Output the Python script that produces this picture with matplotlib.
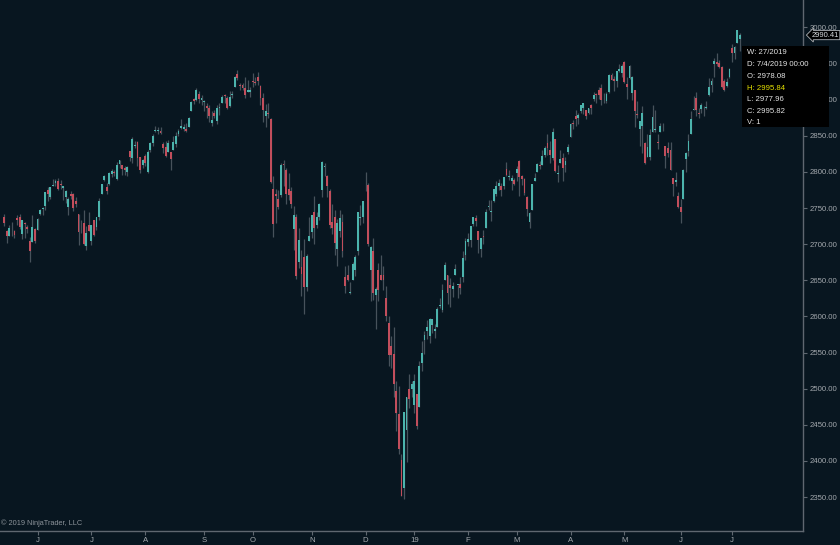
import pandas as pd
import numpy as np
import matplotlib
matplotlib.use("Agg")
import matplotlib.pyplot as plt
from matplotlib.patches import Rectangle

# S&P 500 daily bars, May 14 2018 - Jul 5 2019 (one line per month)
opens = [
    2738,2718,2712,2719,2718,2736,2738,2714,2730,2724,2705,2703,2721,
    2719,2742,2749,2753,2775,2765,2781,2785,2787,2783,2778,2766,2752,2770,2770,2760,2742,2722,2729,2698,2727,
    2705,2734,2724,2738,2769,2789,2779,2783,2797,2800,2790,2811,2810,2805,2800,2829,2819,2836,2842,2820,2809,
    2822,2800,2830,2840,2856,2856,2857,2838,2835,2827,2827,2831,2838,2853,2861,2860,2860,2862,2885,2901,2900,2908,2899,
    2897,2891,2889,2868,2881,2871,2889,2896,2907,2903,2891,2907,2918,2936,2921,2921,2916,2911,2911,
    2926,2924,2932,2919,2902,2877,2882,2873,2776,2770,2763,2768,2811,2803,2776,2774,2721,2737,2675,2668,2682,2641,2705,
    2717,2745,2726,2738,2775,2807,2795,2774,2731,2737,2693,2718,2731,2654,2657,2633,2650,2664,2691,2736,2737,
    2790,2782,2664,2691,2630,2664,2658,2658,2626,2591,2559,2548,2497,2465,2401,2363,2443,2499,2499,
    2477,2492,2474,2535,2568,2580,2573,2588,2580,2585,2614,2609,2651,2657,2643,2638,2658,2644,2645,2654,2685,
    2703,2706,2728,2736,2718,2693,2712,2722,2751,2744,2760,2770,2780,2781,2780,2804,2793,2787,2789,
    2798,2815,2795,2790,2766,2731,2747,2787,2800,2810,2810,2823,2840,2831,2819,2845,2797,2812,2819,2810,2828,
    2849,2868,2877,2874,2885,2889,2886,2882,2892,2901,2908,2913,2916,2905,2898,2910,2934,2929,2926,2940,2937,
    2952,2922,2930,2909,2913,2880,2860,2864,2840,2820,2821,2855,2858,2841,2855,2857,2836,2833,2831,2791,2786,2767,
    2752,2763,2818,2829,2853,2886,2903,2882,2887,2887,2889,2906,2920,2949,2952,2951,2945,2926,2919,2932,
    2972,2964,2978,2984,
]
highs = [
    2742,2719,2727,2731,2719,2740,2742,2734,2731,2727,2710,2740,2723,
    2736,2749,2752,2772,2779,2779,2790,2790,2791,2789,2780,2775,2765,2774,2771,2765,2742,2733,2747,2725,2744,
    2727,2734,2737,2764,2784,2796,2785,2800,2804,2803,2814,2817,2810,2808,2808,2829,2849,2843,2843,2821,2818,
    2825,2830,2841,2853,2863,2862,2862,2842,2843,2844,2828,2850,2855,2859,2873,2867,2868,2876,2898,2903,2916,2912,2907,
    2900,2895,2893,2884,2886,2892,2895,2907,2908,2905,2912,2912,2933,2941,2923,2923,2932,2927,2917,
    2937,2932,2939,2920,2909,2894,2895,2875,2795,2776,2775,2813,2816,2806,2798,2779,2753,2742,2722,2692,2707,2686,2737,
    2741,2767,2745,2757,2815,2813,2796,2776,2755,2747,2735,2747,2742,2670,2671,2648,2675,2685,2744,2754,2760,
    2800,2785,2697,2708,2641,2674,2685,2670,2642,2601,2573,2585,2510,2504,2410,2468,2489,2520,2510,
    2520,2493,2538,2566,2580,2595,2598,2596,2589,2613,2626,2645,2675,2657,2653,2647,2673,2644,2654,2691,2708,
    2716,2725,2738,2740,2718,2709,2719,2749,2761,2761,2776,2787,2790,2785,2793,2814,2803,2796,2792,
    2808,2817,2796,2791,2767,2744,2784,2798,2813,2815,2830,2836,2852,2843,2861,2846,2809,2830,2826,2820,2838,
    2868,2872,2886,2882,2893,2896,2886,2889,2894,2911,2909,2917,2922,2909,2910,2936,2937,2933,2940,2950,2949,
    2954,2931,2948,2933,2914,2898,2871,2891,2841,2853,2859,2892,2886,2853,2868,2868,2836,2841,2841,2792,2800,2772,
    2763,2804,2828,2852,2885,2905,2910,2888,2895,2891,2898,2930,2930,2958,2964,2955,2946,2929,2930,2944,
    2977,2974,2996,2992,
]
lows = [
    2725,2702,2712,2711,2709,2726,2721,2707,2708,2715,2676,2703,2701,
    2719,2740,2740,2747,2760,2763,2780,2780,2775,2776,2761,2757,2741,2763,2746,2752,2699,2716,2699,2692,2718,
    2699,2712,2719,2733,2769,2788,2770,2782,2793,2794,2789,2806,2796,2796,2795,2815,2813,2833,2808,2799,2806,
    2808,2799,2827,2836,2855,2853,2852,2826,2820,2827,2802,2831,2834,2850,2859,2856,2855,2862,2885,2894,2898,2895,2892,
    2885,2875,2869,2864,2875,2867,2879,2896,2896,2887,2890,2903,2918,2927,2913,2913,2903,2910,2904,
    2917,2920,2921,2893,2869,2862,2874,2785,2710,2730,2749,2766,2781,2755,2761,2750,2692,2652,2667,2628,2604,2635,2705,
    2708,2700,2722,2733,2766,2795,2766,2722,2714,2685,2670,2710,2682,2632,2649,2631,2650,2656,2685,2727,2730,
    2774,2697,2621,2623,2583,2622,2650,2637,2594,2531,2528,2489,2442,2409,2351,2347,2398,2473,2488,
    2467,2444,2474,2524,2548,2569,2563,2577,2570,2585,2612,2606,2651,2617,2613,2627,2658,2625,2631,2648,2678,
    2697,2696,2725,2725,2688,2682,2700,2722,2748,2732,2758,2767,2775,2767,2776,2794,2789,2775,2782,
    2787,2767,2782,2768,2739,2722,2747,2787,2800,2804,2810,2821,2823,2812,2817,2800,2786,2812,2787,2800,2825,
    2849,2859,2863,2867,2882,2880,2873,2880,2880,2898,2896,2901,2893,2896,2896,2909,2927,2912,2917,2939,2932,
    2923,2901,2929,2900,2862,2874,2836,2826,2811,2820,2817,2855,2855,2832,2855,2856,2806,2821,2802,2767,2781,2750,
    2729,2763,2800,2822,2853,2886,2878,2874,2882,2877,2887,2905,2911,2932,2946,2944,2916,2912,2918,2930,
    2952,2957,2978,2967,
]
closes = [
    2730,2711,2722,2720,2713,2733,2724,2733,2728,2721,2690,2724,2705,
    2735,2747,2749,2772,2770,2779,2782,2787,2776,2782,2780,2774,2763,2767,2750,2755,2717,2723,2700,2716,2718,
    2727,2713,2737,2760,2784,2794,2774,2798,2801,2798,2810,2816,2804,2802,2807,2820,2846,2837,2819,2803,2816,
    2813,2827,2840,2850,2858,2858,2854,2833,2822,2840,2818,2841,2850,2857,2863,2862,2857,2875,2897,2898,2914,2901,2902,
    2897,2889,2878,2872,2877,2888,2889,2904,2905,2889,2904,2908,2931,2930,2919,2916,2906,2914,2914,
    2925,2923,2926,2902,2886,2884,2880,2786,2728,2767,2751,2810,2809,2769,2768,2756,2741,2656,2706,2659,2641,2683,2712,
    2740,2723,2738,2755,2814,2807,2781,2726,2722,2702,2730,2736,2691,2642,2650,2633,2673,2682,2744,2738,2760,
    2790,2700,2696,2633,2638,2637,2651,2651,2600,2546,2546,2507,2467,2417,2351,2468,2489,2486,2507,
    2510,2448,2532,2550,2574,2585,2597,2596,2583,2610,2616,2636,2671,2633,2639,2642,2665,2644,2640,2681,2704,
    2707,2725,2738,2732,2706,2708,2710,2745,2753,2746,2776,2780,2785,2775,2793,2796,2794,2792,2784,
    2804,2793,2790,2771,2749,2743,2783,2792,2811,2808,2822,2833,2833,2824,2855,2801,2798,2818,2805,2815,2834,
    2867,2867,2873,2879,2893,2896,2878,2888,2888,2907,2906,2907,2900,2905,2908,2934,2927,2926,2940,2943,2946,
    2924,2918,2946,2932,2884,2879,2871,2881,2812,2834,2851,2876,2860,2840,2864,2856,2822,2826,2802,2783,2789,2752,
    2744,2803,2826,2843,2873,2887,2886,2880,2892,2887,2890,2918,2926,2954,2950,2945,2917,2914,2925,2942,
    2964,2973,2996,2990,
]

holidays = ['2018-05-28', '2018-07-04', '2018-09-03', '2018-11-22', '2018-12-05',
            '2018-12-25', '2019-01-01', '2019-01-21', '2019-02-18', '2019-04-19',
            '2019-05-27', '2019-07-04']
days = pd.bdate_range('2018-05-14', '2019-07-05')
days = days[~days.isin(pd.to_datetime(holidays))]
assert len(days) == len(opens) == len(highs) == len(lows) == len(closes)

yticks = [2350, 2400, 2450, 2500, 2550, 2600, 2650, 2700, 2750, 2800, 2850, 2900, 2950, 3000]
last_price = "2990.41"
info_lines = ["W: 27/2019", "D: 7/4/2019 00:00", "O: 2978.08", "H: 2995.84",
              "L: 2977.96", "C: 2995.82", "V: 1"]

bg = '#081620'
up_col = '#4cb4ad'
dn_col = '#c24e5c'
wick_col = '#47525b'
txt_col = '#a3a8ad'
plt.rcParams['font.family'] = ['Liberation Sans', 'DejaVu Sans']

fig = plt.figure(figsize=(8.4, 5.45), dpi=100, facecolor=bg)
ax = fig.add_axes([0, 14/545, 803/840, 531/545], facecolor=bg)

x = np.arange(len(days))
o = np.array(opens); h = np.array(highs); l = np.array(lows); c = np.array(closes)
ax.vlines(x, l, h, color=wick_col, lw=0.9, zorder=1)
colors = [up_col if cc >= oo else dn_col for oo, cc in zip(o, c)]
body = np.maximum(np.abs(c - o), 0.8)
ax.bar(x, body, bottom=np.minimum(o, c), width=0.72, color=colors, linewidth=0, zorder=2)

ax.set_xlim(-1.64, 311.7)
ax.set_ylim(2303, 3038)

# month ticks
tick_pos, tick_lab = [], []
for i in range(1, len(days)):
    if days[i].month != days[i-1].month:
        tick_pos.append(i)
        tick_lab.append('19' if days[i].month == 1 else days[i].strftime('%b')[0])
ax.set_xticks(tick_pos)
ax.set_xticklabels(tick_lab)
ax.set_yticks(yticks)
ax.set_yticklabels(['%.2f' % v for v in yticks])
ax.yaxis.tick_right()
ax.tick_params(axis='both', colors='#5f6770', labelcolor=txt_col, labelsize=5.6,
               length=3, width=0.8, pad=1.5)

for s in ['top', 'left']:
    ax.spines[s].set_visible(False)
for s in ['right', 'bottom']:
    ax.spines[s].set_color('#5f6770')
    ax.spines[s].set_linewidth(1)

ax.text(0.001, 0.008, '\u00a9 2019 NinjaTrader, LLC', transform=ax.transAxes,
        fontsize=5.3, color='#8c939a', ha='left', va='bottom')

# last price marker
ax.annotate(last_price, xy=(1.0, float(last_price)), xycoords=('axes fraction', 'data'),
            xytext=(6, -0.5), textcoords='offset points', fontsize=5.4, color='#d8dbde',
            va='center', ha='left', annotation_clip=False,
            bbox=dict(boxstyle='larrow,pad=0.15', fc='#000000', ec='#b0b4b8', lw=0.6))

# data box
W, H = 840.0, 545.0
fig.patches.append(Rectangle((742/W, 1 - 127/H), 87/W, 81/H, transform=fig.transFigure,
                             facecolor='#000000', edgecolor='none', zorder=5))
ys = [52, 64, 76, 88, 99.5, 111, 122]
for t, yy in zip(info_lines, ys):
    col = '#e5e000' if t.startswith('H') else '#e4e4e4'
    fig.text(747/W, 1 - yy/H, t, fontsize=5.6, color=col, va='center', ha='left', zorder=6)

fig.savefig('out.png', dpi=100, facecolor=bg)
